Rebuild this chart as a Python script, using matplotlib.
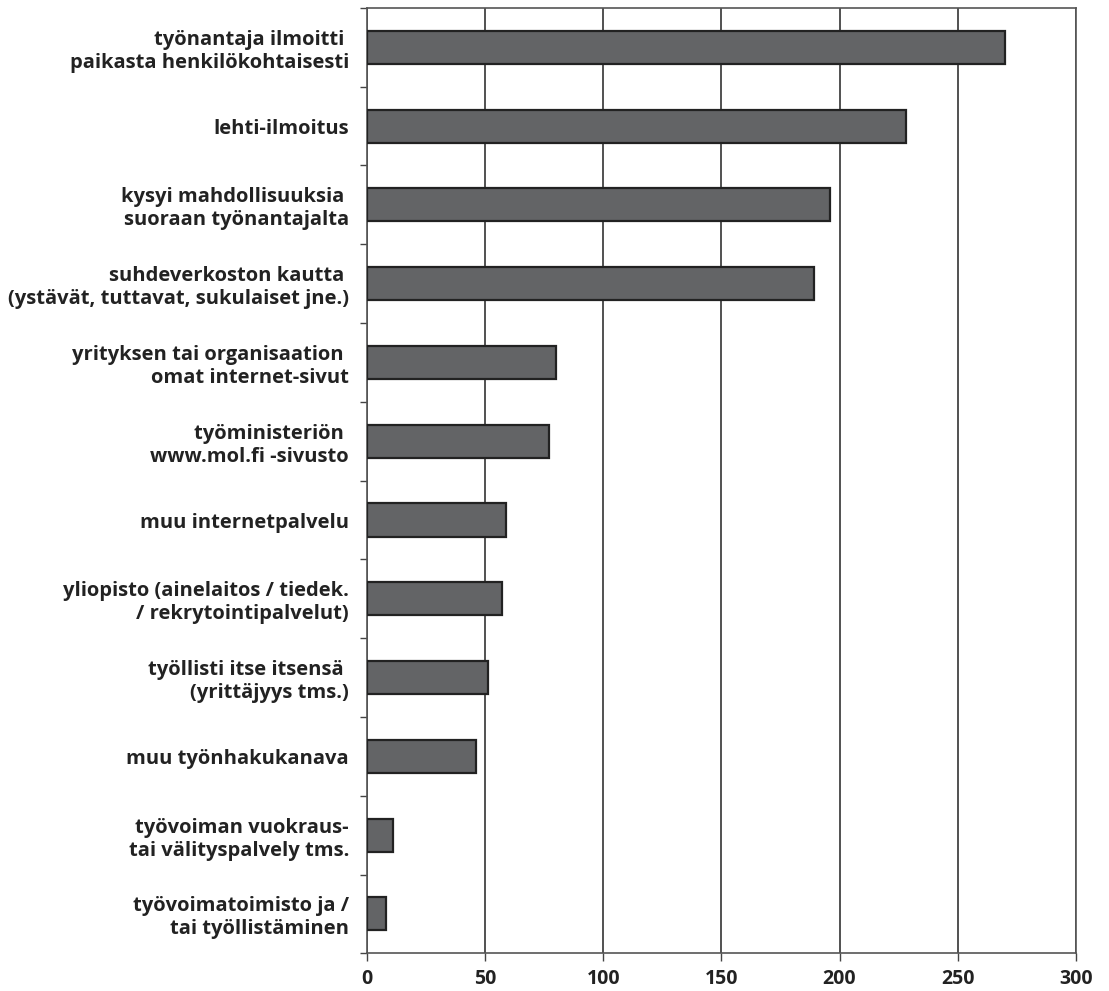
import matplotlib.pyplot as plt
import numpy as np

# kanavat (ylhäältä alas)
kanavat = [
    "työnantaja ilmoitti \npaikasta henkilökohtaisesti",
    "lehti-ilmoitus",
    "kysyi mahdollisuuksia \nsuoraan työnantajalta",
    "suhdeverkoston kautta \n(ystävät, tuttavat, sukulaiset jne.)",
    "yrityksen tai organisaation \nomat internet-sivut",
    "työministeriön \nwww.mol.fi -sivusto",
    "muu internetpalvelu",
    "yliopisto (ainelaitos / tiedek.\n/ rekrytointipalvelut)",
    "työllisti itse itsensä \n(yrittäjyys tms.)",
    "muu työnhakukanava",
    "työvoiman vuokraus-\ntai välityspalvely tms.",
    "työvoimatoimisto ja /\ntai työllistäminen",
]
maarat = [270, 228, 196, 189, 80, 77, 59, 57, 51, 46, 11, 8]
xtiks = [0, 50, 100, 150, 200, 250, 300]

plt.rcParams['font.family'] = ['Open Sans', 'DejaVu Sans']
plt.rcParams['font.weight'] = 'bold'

fig = plt.figure(figsize=(11.09, 9.91), dpi=100)
ax = fig.add_axes([0.331, 0.038, 0.639, 0.954])

y = np.arange(len(kanavat))
ax.barh(y, maarat, height=0.42, color="#636466", edgecolor="#222222", linewidth=1.6, zorder=3)

ax.set_xlim(0, 300)
ax.set_ylim(len(kanavat) - 0.5, -0.5)
ax.set_xticks(xtiks)
ax.set_xticklabels([str(t) for t in xtiks], fontsize=14, fontweight='bold', color="#222222")
ax.set_yticks(y)
ax.set_yticklabels(kanavat, fontsize=14.5, fontweight='bold', color="#222222", linespacing=1.2)
ax.set_yticks(np.arange(len(kanavat) + 1) - 0.5, minor=True)
ax.tick_params(axis='y', which='major', length=0, pad=13)
ax.tick_params(axis='y', which='minor', length=5, width=1, color="#444444")
ax.tick_params(axis='x', length=6, width=1, color="#444444", pad=5)

ax.grid(axis='x', color="#333333", linewidth=1.2, zorder=0)
for s in ax.spines.values():
    s.set_color("#555555")
    s.set_linewidth(1.2)

fig.savefig("out.png", dpi=100)
